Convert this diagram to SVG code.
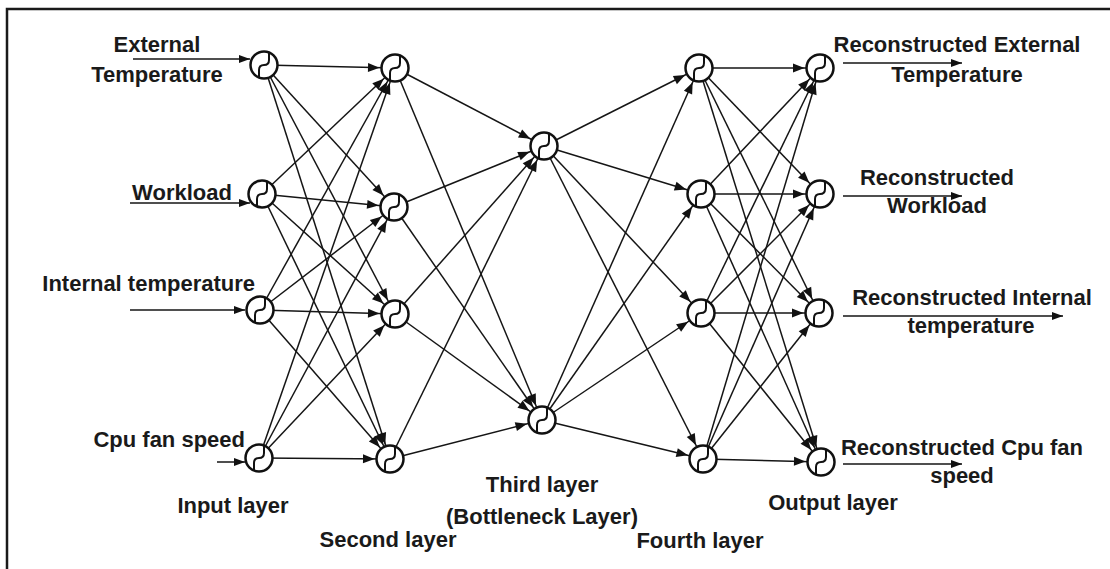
<svg xmlns="http://www.w3.org/2000/svg" xmlns:xlink="http://www.w3.org/1999/xlink" width="1110" height="569" viewBox="0 0 1110 569">
  <style>
    .frame { stroke: #1a1a1a; stroke-width: 2.5; fill: none; }
    .c { stroke: #151515; stroke-width: 1.5; fill: none; marker-end: url(#arr); }
    .io { stroke: #151515; stroke-width: 1.5; fill: none; marker-end: url(#tip); }
    .node circle { fill: #ffffff; stroke: #111111; stroke-width: 2.5; }
    .sig { fill: none; stroke: #111111; stroke-width: 2; }
    text { font-family: "Liberation Sans", Arial, sans-serif; font-weight: bold; font-size: 22px; fill: #1a1a1a; }
    .mid { text-anchor: middle; }
    .end { text-anchor: end; }
  </style>
  <defs>
    <!-- arrowhead that stops on the rim of a target neuron (line runs centre to centre) -->
    <marker id="arr" markerUnits="userSpaceOnUse" markerWidth="1" markerHeight="1" refX="0" refY="0" orient="auto" overflow="visible">
      <path d="M-15.5,0 L-27,-4.5 L-27,4.5 Z" fill="#111"/>
    </marker>
    <!-- plain arrowhead at the end of a line -->
    <marker id="tip" markerUnits="userSpaceOnUse" markerWidth="1" markerHeight="1" refX="0" refY="0" orient="auto" overflow="visible">
      <path d="M0,0 L-11,-4 L-11,4 Z" fill="#111"/>
    </marker>
    <!-- sigmoid glyph drawn inside every neuron -->
    <path id="sigmoid" class="sig" d="M-5,12.5 V5 Q-5,0 0,0 Q5,0 5,-5 V-12.5"/>
  </defs>

  <rect width="1110" height="569" fill="#ffffff"/>
  <path class="frame" d="M7,569 V9 H1110"/>

  <g id="connectors">
    <!-- input layer -> second layer -->
    <line class="c" x1="264" y1="65" x2="395" y2="68"/>
    <line class="c" x1="264" y1="65" x2="394" y2="207"/>
    <line class="c" x1="264" y1="65" x2="395" y2="314"/>
    <line class="c" x1="264" y1="65" x2="390" y2="459"/>
    <line class="c" x1="262" y1="194" x2="395" y2="68"/>
    <line class="c" x1="262" y1="194" x2="394" y2="207"/>
    <line class="c" x1="262" y1="194" x2="395" y2="314"/>
    <line class="c" x1="262" y1="194" x2="390" y2="459"/>
    <line class="c" x1="260" y1="310" x2="395" y2="68"/>
    <line class="c" x1="260" y1="310" x2="394" y2="207"/>
    <line class="c" x1="260" y1="310" x2="395" y2="314"/>
    <line class="c" x1="260" y1="310" x2="390" y2="459"/>
    <line class="c" x1="259" y1="458" x2="395" y2="68"/>
    <line class="c" x1="259" y1="458" x2="394" y2="207"/>
    <line class="c" x1="259" y1="458" x2="395" y2="314"/>
    <line class="c" x1="259" y1="458" x2="390" y2="459"/>
    <!-- second layer -> bottleneck -->
    <line class="c" x1="395" y1="68" x2="544" y2="146"/>
    <line class="c" x1="395" y1="68" x2="542" y2="420"/>
    <line class="c" x1="394" y1="207" x2="544" y2="146"/>
    <line class="c" x1="394" y1="207" x2="542" y2="420"/>
    <line class="c" x1="395" y1="314" x2="544" y2="146"/>
    <line class="c" x1="395" y1="314" x2="542" y2="420"/>
    <line class="c" x1="390" y1="459" x2="544" y2="146"/>
    <line class="c" x1="390" y1="459" x2="542" y2="420"/>
    <!-- bottleneck -> fourth layer -->
    <line class="c" x1="544" y1="146" x2="699" y2="68"/>
    <line class="c" x1="544" y1="146" x2="701" y2="194"/>
    <line class="c" x1="544" y1="146" x2="701" y2="313"/>
    <line class="c" x1="544" y1="146" x2="703" y2="459"/>
    <line class="c" x1="542" y1="420" x2="699" y2="68"/>
    <line class="c" x1="542" y1="420" x2="701" y2="194"/>
    <line class="c" x1="542" y1="420" x2="701" y2="313"/>
    <line class="c" x1="542" y1="420" x2="703" y2="459"/>
    <!-- fourth layer -> output layer -->
    <line class="c" x1="699" y1="68" x2="820" y2="68"/>
    <line class="c" x1="699" y1="68" x2="820" y2="194"/>
    <line class="c" x1="699" y1="68" x2="819" y2="313"/>
    <line class="c" x1="699" y1="68" x2="821" y2="462"/>
    <line class="c" x1="701" y1="194" x2="820" y2="68"/>
    <line class="c" x1="701" y1="194" x2="820" y2="194"/>
    <line class="c" x1="701" y1="194" x2="819" y2="313"/>
    <line class="c" x1="701" y1="194" x2="821" y2="462"/>
    <line class="c" x1="701" y1="313" x2="820" y2="68"/>
    <line class="c" x1="701" y1="313" x2="820" y2="194"/>
    <line class="c" x1="701" y1="313" x2="819" y2="313"/>
    <line class="c" x1="701" y1="313" x2="821" y2="462"/>
    <line class="c" x1="703" y1="459" x2="820" y2="68"/>
    <line class="c" x1="703" y1="459" x2="820" y2="194"/>
    <line class="c" x1="703" y1="459" x2="819" y2="313"/>
    <line class="c" x1="703" y1="459" x2="821" y2="462"/>
    <!-- feature inputs -->
    <line class="io" x1="133" y1="59" x2="250" y2="59"/>
    <line class="io" x1="130" y1="203" x2="250" y2="203"/>
    <line class="io" x1="130" y1="310" x2="245" y2="310"/>
    <line class="io" x1="217" y1="462" x2="245" y2="462"/>
    <!-- reconstructed outputs -->
    <line class="io" x1="843" y1="63" x2="962" y2="63"/>
    <line class="io" x1="843" y1="196" x2="962" y2="196"/>
    <line class="io" x1="843" y1="316" x2="1063" y2="316"/>
    <line class="io" x1="843" y1="464" x2="962" y2="464"/>
  </g>

  <g id="input-layer">
    <g id="in1" class="node" transform="translate(264,65)"><circle r="13.5"/><use xlink:href="#sigmoid"/></g>
    <g id="in2" class="node" transform="translate(262,194)"><circle r="13.5"/><use xlink:href="#sigmoid"/></g>
    <g id="in3" class="node" transform="translate(260,310)"><circle r="13.5"/><use xlink:href="#sigmoid"/></g>
    <g id="in4" class="node" transform="translate(259,458)"><circle r="13.5"/><use xlink:href="#sigmoid"/></g>
  </g>
  <g id="second-layer">
    <g id="h1" class="node" transform="translate(395,68)"><circle r="13.5"/><use xlink:href="#sigmoid"/></g>
    <g id="h2" class="node" transform="translate(394,207)"><circle r="13.5"/><use xlink:href="#sigmoid"/></g>
    <g id="h3" class="node" transform="translate(395,314)"><circle r="13.5"/><use xlink:href="#sigmoid"/></g>
    <g id="h4" class="node" transform="translate(390,459)"><circle r="13.5"/><use xlink:href="#sigmoid"/></g>
  </g>
  <g id="bottleneck-layer">
    <g id="b1" class="node" transform="translate(544,146)"><circle r="13.5"/><use xlink:href="#sigmoid"/></g>
    <g id="b2" class="node" transform="translate(542,420)"><circle r="13.5"/><use xlink:href="#sigmoid"/></g>
  </g>
  <g id="fourth-layer">
    <g id="d1" class="node" transform="translate(699,68)"><circle r="13.5"/><use xlink:href="#sigmoid"/></g>
    <g id="d2" class="node" transform="translate(701,194)"><circle r="13.5"/><use xlink:href="#sigmoid"/></g>
    <g id="d3" class="node" transform="translate(701,313)"><circle r="13.5"/><use xlink:href="#sigmoid"/></g>
    <g id="d4" class="node" transform="translate(703,459)"><circle r="13.5"/><use xlink:href="#sigmoid"/></g>
  </g>
  <g id="output-layer">
    <g id="out1" class="node" transform="translate(820,68)"><circle r="13.5"/><use xlink:href="#sigmoid"/></g>
    <g id="out2" class="node" transform="translate(820,194)"><circle r="13.5"/><use xlink:href="#sigmoid"/></g>
    <g id="out3" class="node" transform="translate(819,313)"><circle r="13.5"/><use xlink:href="#sigmoid"/></g>
    <g id="out4" class="node" transform="translate(821,462)"><circle r="13.5"/><use xlink:href="#sigmoid"/></g>
  </g>

  <g id="labels">
    <text class="mid" x="157" y="52">External</text>
    <text class="mid" x="157" y="82">Temperature</text>
    <text class="mid" x="182" y="200">Workload</text>
    <text class="end" x="255" y="291">Internal temperature</text>
    <text class="end" x="245" y="447">Cpu fan speed</text>

    <text class="mid" x="233" y="513">Input layer</text>
    <text class="mid" x="388" y="547">Second layer</text>
    <text class="mid" x="542" y="492">Third layer</text>
    <text class="mid" x="542" y="524">(Bottleneck Layer)</text>
    <text class="mid" x="700" y="548">Fourth layer</text>
    <text class="mid" x="833" y="510">Output layer</text>

    <text class="mid" x="957" y="52">Reconstructed External</text>
    <text class="mid" x="957" y="82">Temperature</text>
    <text class="mid" x="937" y="185">Reconstructed</text>
    <text class="mid" x="937" y="213">Workload</text>
    <text class="mid" x="972" y="305">Reconstructed Internal</text>
    <text class="mid" x="971" y="333">temperature</text>
    <text class="mid" x="962" y="455">Reconstructed Cpu fan</text>
    <text class="mid" x="962" y="483">speed</text>
  </g>
</svg>
